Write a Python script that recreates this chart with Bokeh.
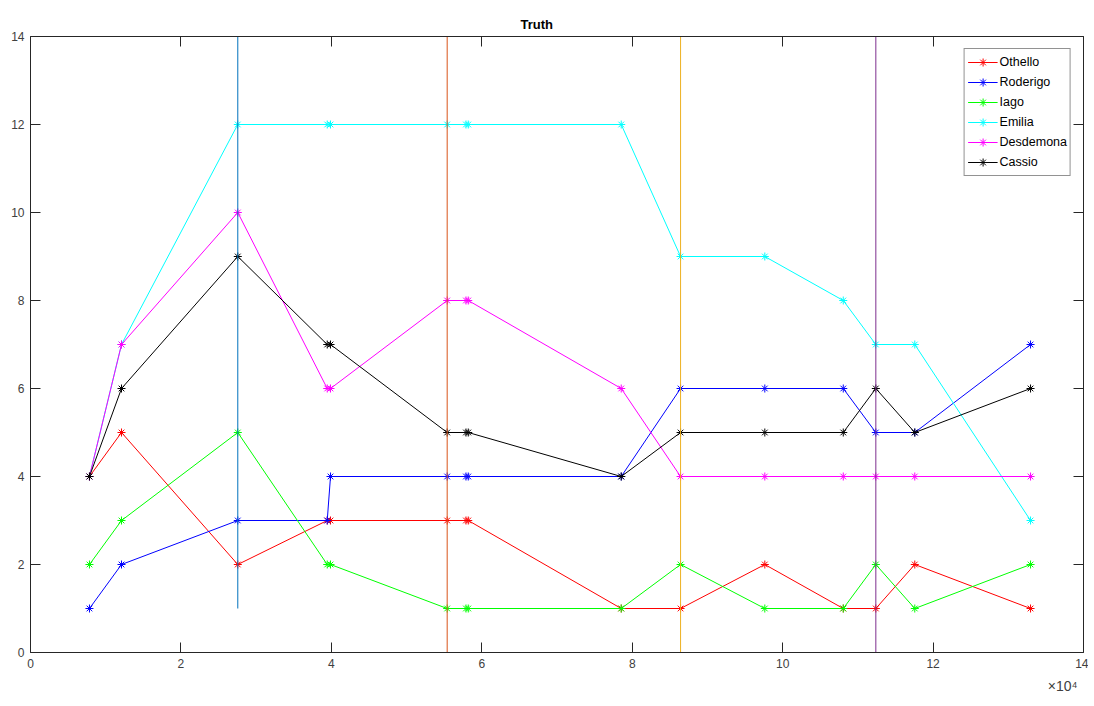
from bokeh.plotting import figure
from bokeh.models import (LinearAxis, Range1d, Title, FixedTicker, Legend, LegendItem,
                          CustomJSTickFormatter)
from bokeh.embed import file_html
from bokeh.resources import INLINE

# ---- data (x in raw units; the axis shows them ×10^4) ----
x_raw = [7840, 12100, 27560, 39450, 39890, 55400, 57900, 58200,
         78540, 86430, 97630, 108060, 112390, 117570, 132960]
othello   = [4, 5, 2, 3, 3, 3, 3, 3, 1, 1, 2, 1, 1, 2, 1]
roderigo  = [1, 2, 3, 3, 4, 4, 4, 4, 4, 6, 6, 6, 5, 5, 7]
iago      = [2, 3, 5, 2, 2, 1, 1, 1, 1, 2, 1, 1, 2, 1, 2]
emilia    = [4, 7, 12, 12, 12, 12, 12, 12, 12, 9, 9, 8, 7, 7, 3]
desdemona = [4, 7, 10, 6, 6, 8, 8, 8, 6, 4, 4, 4, 4, 4, 4]
cassio    = [4, 6, 9, 7, 7, 5, 5, 5, 4, 5, 5, 5, 6, 5, 6]
names = ["Othello", "Roderigo", "Iago", "Emilia", "Desdemona", "Cassio"]
series = [othello, roderigo, iago, emilia, desdemona, cassio]
colors = ["#ff0000", "#0000ff", "#00ff00", "#00ffff", "#ff00ff", "#000000"]

# vertical marker lines
vline_x = [27560, 55400, 86430, 112390]
vline_y0 = [1, 0, 0, 0]
vline_y1 = [14, 14, 14, 14]
vline_colors = ["#0072bd", "#d95319", "#edb120", "#7e2f8e"]

x_ticks = [0, 2, 4, 6, 8, 10, 12, 14]
y_ticks = [0, 2, 4, 6, 8, 10, 12, 14]
SCALE = 1e4

xs = [v / SCALE for v in x_raw]

W, H = 1088, 698
BL, BR, BT, BB = 30, 5, 36, 46
p = figure(width=W, height=H, output_backend="svg", toolbar_location=None,
           x_range=Range1d(0, 14), y_range=Range1d(0, 14),
           min_border_left=BL, min_border_right=BR, min_border_top=BT, min_border_bottom=BB)
p.background_fill_color = "white"
p.border_fill_color = "white"
p.outline_line_color = None
p.xgrid.visible = False
p.ygrid.visible = False

axcol = "#262626"
for ax in (p.xaxis[0], p.yaxis[0]):
    ax.axis_line_color = axcol
    ax.major_tick_line_color = axcol
    ax.major_tick_in = 10
    ax.major_tick_out = 0
    ax.minor_tick_line_color = None
    ax.major_label_text_font = "Liberation Sans"
    ax.major_label_text_font_size = "12px"
    ax.major_label_text_color = "#404040"
    ax.major_label_standoff = 6
p.xaxis[0].ticker = FixedTicker(ticks=x_ticks)
p.yaxis[0].ticker = FixedTicker(ticks=y_ticks)

for loc, ticks in (("above", x_ticks), ("right", y_ticks)):
    ax = LinearAxis(ticker=FixedTicker(ticks=ticks),
                    formatter=CustomJSTickFormatter(code="return ''"))
    ax.axis_line_color = axcol
    ax.major_tick_line_color = axcol
    ax.major_tick_in = 10
    ax.major_tick_out = 0
    ax.minor_tick_line_color = None
    ax.major_label_standoff = 0
    p.add_layout(ax, loc)

items = []
for name, ys, c in zip(names, series, colors):
    r1 = p.line(xs, ys, line_color=c, line_width=1)
    r2 = p.scatter(xs, ys, marker="asterisk", size=8, line_color=c, line_width=1)
    items.append(LegendItem(label=name, renderers=[r1, r2]))

p.segment(x0=[v / SCALE for v in vline_x], y0=vline_y0,
          x1=[v / SCALE for v in vline_x], y1=vline_y1,
          line_color=vline_colors, line_width=1)

legend = Legend(items=items, location="top_right")
legend.label_text_font = "Liberation Sans"
legend.label_text_font_size = "12.5px"
legend.label_text_color = "#000000"
legend.label_height = 20
legend.glyph_height = 20
legend.glyph_width = 30
legend.spacing = 0
legend.padding = 3
legend.margin = 12
legend.label_standoff = 2
legend.border_line_color = axcol
legend.border_line_width = 1
legend.background_fill_alpha = 1
p.add_layout(legend)

# title (slightly left of centre, as in the original)
p.title = Title(text="Truth", align="left", offset=490, text_font="Liberation Sans",
                text_font_size="13px", text_font_style="bold", text_color="#000000",
                standoff=10)

# axis exponent below the x axis, right aligned
p.add_layout(Title(text="×10⁴", align="right", offset=6, text_font="Liberation Sans",
                   text_font_size="14px", text_font_style="normal",
                   text_color="#404040", standoff=10), "below")

open("out.html", "w").write(file_html(p, INLINE))
